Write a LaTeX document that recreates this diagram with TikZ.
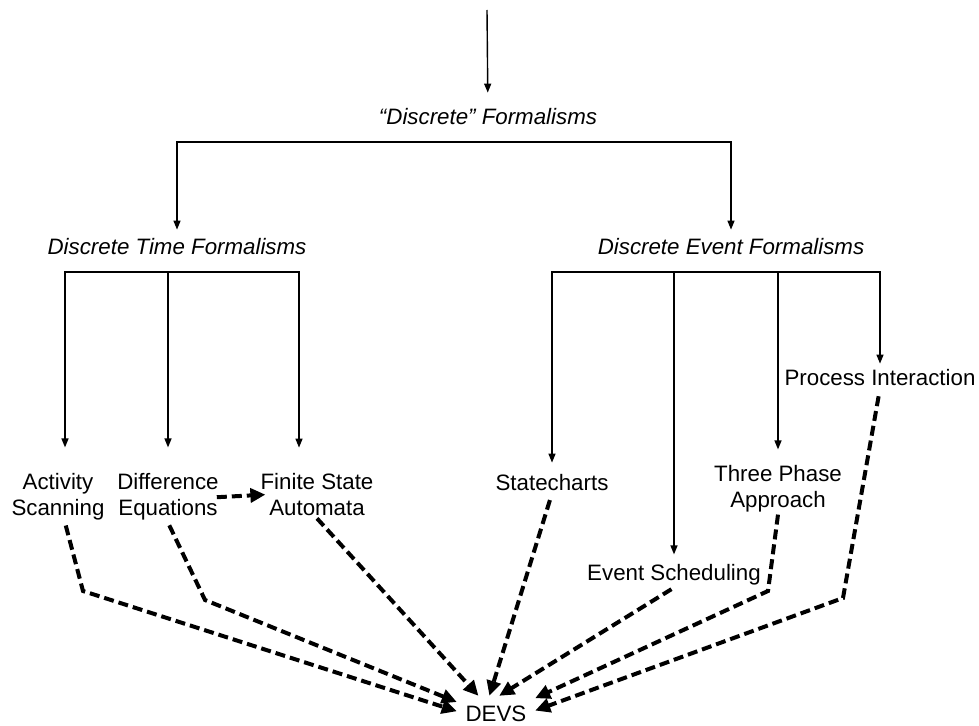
\documentclass[tikz,border=0pt]{standalone}
\usepackage{fontspec}
\setmainfont{Liberation Sans}
\usetikzlibrary{arrows.meta}

\begin{document}
\begin{tikzpicture}[
    x=1pt, y=-1pt,
    line join=miter,
    every node/.style={
      font=\fontsize{22.3}{26}\selectfont,
      inner sep=2pt,
      align=center
    },
    heading/.style={font=\fontsize{22.3}{26}\selectfont\itshape},
    tree/.style={line width=1.4pt, -{Triangle[length=9pt,width=7pt]}},
    twotree/.style={line width=1.4pt, {Triangle[length=9pt,width=7pt]}-{Triangle[length=9pt,width=7pt]}},
    maps/.style={line width=4pt, dash pattern=on 10pt off 5pt, -{Triangle[length=15pt,width=14pt]}}
]
\useasboundingbox (0,0) rectangle (979,725);

\coordinate (top) at (487,10);
\node[heading] (DF)  at (488,117) {“Discrete” Formalisms};
\node[heading] (DTF) at (177,247) {Discrete Time Formalisms};
\node[heading] (DEF) at (731,247) {Discrete Event Formalisms};

\node (AS)  at (58,497)  {Activity\\Scanning};
\node (DE)  at (168,497) {Difference\\Equations};
\node (FSA) at (317,495) {Finite State\\Automata};

\node (SC) at (552,483) {Statecharts};
\node (ES) at (674,575) {Event Scheduling};
\node (TP) at (778,489) {Three Phase\\Approach};
\node (PI) at (880,378) {Process Interaction};

\node[minimum width=78pt, minimum height=36pt] (DEVS) at (496,714) {DEVS};

\coordinate (dtbus) at (168,272);
\coordinate (asB) at (83,591);
\coordinate (deB) at (205,600);
\coordinate (tpB) at (768,591);
\coordinate (piB) at (843,598);

\draw[tree, shorten >=14pt] (top) -- (DF);
\draw[twotree, shorten <=7pt, shorten >=7pt]
  (DTF.north) -- (DTF.north |- 0,142) -- (DEF.north |- 0,142) -- (DEF.north);

% discrete time
\draw[twotree, shorten <=24pt, shorten >=24pt]
  (AS.north -| 65,0) -- (65,272) -- (299,272) -- (FSA.north -| 299,0);
\draw[tree, shorten >=24pt] (dtbus) -- (DE.north);

% discrete event
\draw[twotree, shorten <=10pt, shorten >=4pt]
  (SC.north) -- (SC.north |- 0,272) -- (PI.north |- 0,272) -- (PI.north);
\draw[tree, shorten >=8pt] (ES.north |- 0,272) -- (ES.north);
\draw[tree, shorten >=14pt] (TP.north |- 0,272) -- (TP.north);

% mappings to DEVS
\draw[maps, shorten <=-4pt, shorten >=-7pt] (DE.east) -- (FSA.west);
\draw[maps, shorten <=3pt] (AS.south -| 65,0) -- (asB) -- (DEVS.176);
\draw[maps, shorten <=3pt] (DE.south) -- (deB) -- (DEVS.163);
\draw[maps] (FSA.south) -- (DEVS.134);
\draw[maps, shorten <=7pt] (SC.south) -- (DEVS.110);
\draw[maps, shorten <=3pt] (ES.south) -- (DEVS.80);
\draw[maps] (TP.south) -- (tpB) -- (DEVS.22);
\draw[maps, shorten <=8pt] (PI.south) -- (piB) -- (DEVS.5);
\end{tikzpicture}
\end{document}
